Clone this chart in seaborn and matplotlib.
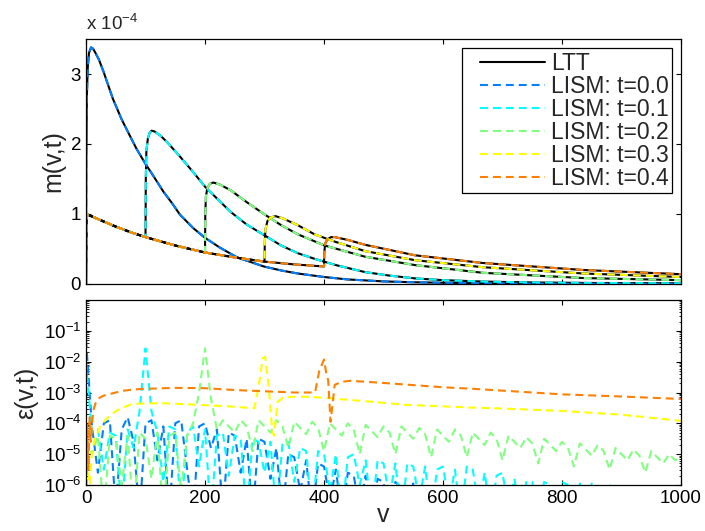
import matplotlib
matplotlib.use("Agg")
import matplotlib.pyplot as plt
from matplotlib.legend_handler import HandlerLine2D
from matplotlib.lines import Line2D
from matplotlib.ticker import FixedLocator, FuncFormatter, LogLocator, NullFormatter
import numpy as np
import pandas as pd
import seaborn as sns

# ---- data ----
T_LABELS = ["0.0", "0.1", "0.2", "0.3", "0.4"]
COLORS = ["#0080ff", "#00ffff", "#80ff80", "#ffff00", "#ff8000"]
JUMPS = [None, 100, 200, 300, 400]

# top panel, m(v,t) in units of 1e-4
BLUE_V = [0, 0.5, 1.5, 3, 5, 8.5, 12, 16, 22, 30, 45, 60, 73, 85, 99, 115, 130, 145, 158, 180,
          200, 225, 254, 299, 330, 356, 400, 440, 500, 550, 604, 700, 800, 900, 1000]
BLUE_M = [0, 1.8, 2.7, 3.1, 3.3, 3.38, 3.36, 3.3, 3.2, 3.02, 2.65, 2.35, 2.13, 1.93, 1.73, 1.52,
          1.32, 1.15, 0.99, 0.80, 0.66, 0.52, 0.38, 0.25, 0.19, 0.15, 0.10, 0.065, 0.037, 0.025,
          0.017, 0.008, 0.004, 0.002, 0.001]

ENV_V = [0, 0.5, 25, 50, 75, 100, 125, 150, 175, 200, 250, 300, 350, 400]
ENV_M = [0, 1.0, 0.91, 0.82, 0.74, 0.67, 0.61, 0.55, 0.50, 0.45, 0.38, 0.32, 0.28, 0.25]

CYAN_V = [100, 100.5, 101.5, 104, 107, 110, 115, 125, 136, 158, 180, 200, 243, 270, 299, 328,
          356, 384, 420, 469, 510, 553, 600, 667, 750, 850, 1000]
CYAN_M = [0.67, 1.5, 1.9, 2.08, 2.16, 2.19, 2.18, 2.12, 2.03, 1.82, 1.6, 1.39, 1.03, 0.85, 0.70,
          0.55, 0.44, 0.36, 0.27, 0.17, 0.12, 0.08, 0.055, 0.035, 0.022, 0.015, 0.01]
GREEN_V = [200, 200.5, 201.5, 204, 208, 214, 225, 243, 270, 299, 328, 356, 401, 469, 553, 667, 836, 1000]
GREEN_M = [0.45, 1.0, 1.25, 1.37, 1.43, 1.45, 1.42, 1.34, 1.17, 1.0, 0.84, 0.71, 0.55, 0.39, 0.27,
           0.16, 0.085, 0.055]
YELLOW_V = [300, 300.5, 301.5, 305, 310, 318, 330, 356, 384, 420, 469, 553, 667, 836, 1000]
YELLOW_M = [0.32, 0.6, 0.78, 0.9, 0.95, 0.97, 0.94, 0.84, 0.71, 0.60, 0.47, 0.34, 0.24, 0.15, 0.10]
ORANGE_V = [400, 400.5, 402, 406, 412, 418, 440, 469, 553, 667, 836, 1000]
ORANGE_M = [0.25, 0.45, 0.58, 0.64, 0.67, 0.67, 0.63, 0.56, 0.41, 0.30, 0.20, 0.14]

# bottom panel, log10 of eps(v,t); values below -6 fall off the axis
ERR_STEP = 10
BLUE_E = [-1.3, -4.1, -5.6, -4.0, -3.9, -6.8, -4.2, -3.8, -4.6, -7.0, -4.0, -3.9, -5.2, -4.1, -7.0,
          -4.0, -3.9, -5.5, -7.0, -4.1, -4.0, -4.8, -4.2, -6.9, -4.3, -4.4, -5.6, -4.5, -7.0, -4.5,
          -4.6, -5.8, -4.8, -7.0, -5.0, -5.1, -6.2, -5.2, -7.0, -5.3, -5.4, -6.5, -5.5, -7.0, -5.6,
          -5.7, -6.8, -5.7, -7.0, -5.8, -5.9, -7.0, -5.9, -6.1, -7.0, -5.95, -7.0, -6.2, -7.0, -7.0,
          -7.0]
CYAN_E = [-2.0, -4.3, -4.2, -5.5, -4.3, -4.4, -6.9, -4.2, -4.8, -3.6, -1.57, -3.6, -4.3, -5.9,
          -4.1, -4.2, -7.0, -4.3, -4.1, -5.4, -4.2, -7.0, -4.4, -4.3, -5.7, -4.4, -4.5, -7.0, -4.5,
          -4.6, -5.6, -4.6, -7.0, -4.7, -4.6, -5.9, -4.8, -4.9, -7.0, -4.9, -5.0, -6.2, -5.0, -7.0,
          -5.1, -5.0, -6.0, -5.2, -7.0, -5.2, -5.3, -6.4, -5.3, -7.0, -5.3, -5.4, -6.5, -5.4, -7.0,
          -5.5, -5.4, -6.6, -5.5, -7.0, -5.4, -5.5, -6.7, -5.6, -7.0, -5.7, -5.6, -6.8, -5.8, -7.0,
          -5.9, -5.9, -7.0, -5.9, -6.0, -7.0, -5.9, -6.0, -7.0, -5.95, -7.0, -5.95, -6.1, -7.0,
          -5.95, -7.0, -6.0, -7.0, -6.0, -7.0, -7.0, -6.05, -7.0, -7.0, -7.0, -7.0, -7.0]
GREEN_E = [-4.5, -5.0, -4.4, -7.0, -4.4, -4.5, -6.0, -4.4, -7.0, -4.3, -4.5, -5.8, -4.3, -7.0,
           -4.4, -4.3, -6.2, -4.4, -4.0, -3.0, -1.57, -3.2, -4.2, -3.9, -4.1, -4.3, -3.9, -4.1,
           -4.9, -3.9, -4.1, -4.3, -3.9, -4.1, -4.8, -3.95, -4.15, -4.35, -3.95, -4.15, -4.9, -4.0,
           -4.2, -4.4, -4.0, -4.2, -5.0, -4.05, -4.25, -4.45, -4.1, -4.3, -5.0, -4.1, -4.3, -4.5,
           -4.15, -4.35, -5.1, -4.2, -4.4, -4.6, -4.2, -4.4, -5.1, -4.3, -4.5, -4.7, -4.3, -4.5,
           -5.2, -4.4, -4.6, -4.8, -4.45, -4.65, -5.3, -4.5, -4.7, -4.9, -4.6, -4.8, -5.4, -4.65,
           -4.85, -5.05, -4.7, -4.9, -5.5, -4.8, -5.0, -5.2, -4.85, -5.05, -5.6, -4.9, -5.1, -5.3,
           -5.0, -5.2, -5.1]
YELLOW_EV = [0, 3, 6, 10, 15, 25, 40, 53, 76, 100, 133, 189, 240, 283, 291, 297, 301, 307, 313,
             316, 322, 330, 345, 378, 412, 424, 480, 537, 600, 650, 700, 802, 900, 1000]
YELLOW_E = [-6.5, -5.0, -6.2, -4.9, -4.5, -4.05, -3.75, -3.57, -3.38, -3.35, -3.35, -3.4, -3.45,
            -3.51, -2.7, -1.89, -1.84, -2.8, -4.27, -4.4, -3.3, -3.18, -3.14, -3.14, -3.19, -3.21,
            -3.3, -3.4, -3.45, -3.49, -3.52, -3.6, -3.72, -3.92]
ORANGE_EV = [0, 2, 4, 6, 8, 12, 16, 20, 30, 40, 60, 80, 100, 150, 200, 250, 300, 350, 385, 392,
             400, 404, 407, 411, 418, 430, 445, 500, 550, 600, 650, 700, 800, 900, 1000]
ORANGE_E = [-6.5, -4.0, -5.5, -3.8, -4.6, -3.6, -3.35, -3.2, -3.1, -3.05, -2.95, -2.9, -2.88,
            -2.85, -2.86, -2.92, -2.96, -3.0, -3.0, -2.3, -1.93, -2.4, -2.6, -3.95, -2.75, -2.65,
            -2.62, -2.69, -2.76, -2.83, -2.88, -2.94, -3.06, -3.13, -3.21]

LW = 1.5
DASH = (0, (3.8, 2.4))


class IndentedLine(HandlerLine2D):
    """Legend line that leaves a gap on its left, like the MATLAB legend."""

    def get_xdata(self, legend, xdescent, ydescent, width, height, fontsize):
        x = np.array([-xdescent + 10.5, -xdescent + width])
        return x, x


def main() -> None:
    sns.set_style("ticks")
    plt.rcParams.update({
        "font.family": ["Liberation Sans", "DejaVu Sans"],
        "mathtext.default": "regular",
        "xtick.direction": "in", "ytick.direction": "in",
        "xtick.top": True, "ytick.right": True,
        "xtick.major.size": 3.6, "ytick.major.size": 3.6,
        "xtick.minor.size": 1.8, "ytick.minor.size": 1.8,
        "xtick.major.width": 0.8, "ytick.major.width": 0.8,
        "axes.linewidth": 0.9, "axes.edgecolor": "black",
        "xtick.color": "black", "ytick.color": "black",
        "xtick.labelsize": 13.5, "ytick.labelsize": 13.5,
    })

    # assemble top-panel series: lower envelope up to the jump, then the tail
    tails = [(BLUE_V, BLUE_M), (CYAN_V, CYAN_M), (GREEN_V, GREEN_M),
             (YELLOW_V, YELLOW_M), (ORANGE_V, ORANGE_M)]
    rows = []
    for t, jump, (tv, tm) in zip(T_LABELS, JUMPS, tails):
        vv, mm = [], []
        if jump is not None:
            for v, m in zip(ENV_V, ENV_M):
                if v < jump:
                    vv.append(v)
                    mm.append(m)
        vv += tv
        mm += tm
        for v, m in zip(vv, mm):
            rows.append({"v": v, "m": m * 1e-4, "t": t})
    top = pd.DataFrame(rows)

    grid = list(np.arange(0, 1001, ERR_STEP))
    err_series = [(grid[:len(BLUE_E)], BLUE_E), (grid, CYAN_E), (grid, GREEN_E),
                  (YELLOW_EV, YELLOW_E), (ORANGE_EV, ORANGE_E)]
    rows = []
    for t, (ev, ee) in zip(T_LABELS, err_series):
        for v, e in zip(ev, ee):
            rows.append({"v": v, "eps": 10.0 ** e, "t": t})
    bot = pd.DataFrame(rows)

    palette = dict(zip(T_LABELS, COLORS))

    fig = plt.figure(figsize=(7.05, 5.31), dpi=100)
    ax1 = fig.add_axes([86 / 705, 1 - 284 / 531, 595 / 705, 245 / 531])
    ax2 = fig.add_axes([86 / 705, 1 - 485 / 531, 595 / 705, 185 / 531])

    # top: LTT (black solid) underneath, LISM (coloured dashed) on top
    sns.lineplot(data=top, x="v", y="m", units="t", estimator=None, sort=False,
                 color="black", lw=LW, ax=ax1, legend=False)
    sns.lineplot(data=top, x="v", y="m", hue="t", hue_order=T_LABELS, palette=palette,
                 estimator=None, sort=False, lw=LW, linestyle=DASH, ax=ax1, legend=False)
    ax1.set_xlim(0, 1000)
    ax1.set_ylim(0, 3.5e-4)
    ax1.xaxis.set_major_locator(FixedLocator(np.arange(0, 1001, 200)))
    ax1.set_xticklabels([])
    ax1.set_xlabel("")
    ax1.yaxis.set_major_locator(FixedLocator([0, 1e-4, 2e-4, 3e-4]))
    ax1.yaxis.set_major_formatter(FuncFormatter(lambda y, _: f"{y / 1e-4:.0f}"))
    ax1.set_ylabel("m(v,t)", fontsize=18)
    ax1.yaxis.set_label_coords(-0.034, 0.5)
    ax1.text(0.0, 1.02, "x 10$^{-4}$", transform=ax1.transAxes, ha="left", va="bottom",
             fontsize=13.5)

    handles = [Line2D([], [], color="black", lw=LW)]
    handles += [Line2D([], [], color=c, lw=LW, linestyle=DASH) for c in COLORS]
    labels = ["LTT"] + [f"LISM: t={t}" for t in T_LABELS]
    leg = ax1.legend(handles, labels, loc="upper right", fontsize=16.5, frameon=True,
                     fancybox=False, edgecolor="black", framealpha=1, handlelength=3.48,
                     handletextpad=0.26, labelspacing=0.0, borderaxespad=0.4, borderpad=0.15,
                     handler_map={Line2D: IndentedLine()})
    leg.get_frame().set_linewidth(0.9)

    # bottom: relative error on log scale
    sns.lineplot(data=bot, x="v", y="eps", hue="t", hue_order=T_LABELS, palette=palette,
                 estimator=None, sort=False, lw=LW, linestyle=DASH, ax=ax2, legend=False)
    ax2.set_yscale("log")
    ax2.set_xlim(0, 1000)
    ax2.set_ylim(1e-6, 1)
    ax2.xaxis.set_major_locator(FixedLocator(np.arange(0, 1001, 200)))
    ax2.yaxis.set_major_locator(FixedLocator([1e-6, 1e-5, 1e-4, 1e-3, 1e-2, 1e-1]))
    ax2.yaxis.set_major_formatter(
        FuncFormatter(lambda y, _: f"$10^{{{int(round(np.log10(y)))}}}$"))
    ax2.yaxis.set_minor_locator(LogLocator(base=10, subs=np.arange(2, 10), numticks=20))
    ax2.yaxis.set_minor_formatter(NullFormatter())
    ax2.set_ylabel("\u03b5(v,t)", fontsize=18)
    ax2.yaxis.set_label_coords(-0.081, 0.5)
    ax2.set_xlabel("v", fontsize=18)
    ax2.xaxis.set_label_coords(0.5, -0.10)

    fig.savefig("out.png", dpi=100, facecolor="white")
    plt.close(fig)


if __name__ == "__main__":
    main()
